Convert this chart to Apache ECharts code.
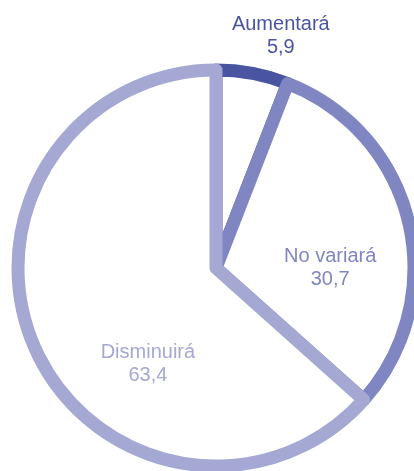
<!DOCTYPE html>
<html>
<head>
<meta charset="utf-8">
<script src="https://cdn.jsdelivr.net/npm/echarts@6/dist/echarts.min.js"></script>
<style>html,body{margin:0;padding:0;background:#fff}#c{width:414px;height:471px}</style>
</head>
<body>
<div id="c"></div>
<script>
var categories = ['Aumentará', 'No variará', 'Disminuirá'];
var values = [5.9, 30.7, 63.4];
var colors = ['#4a55a2', '#7f86c1', '#a4a8d3'];
var labelShift = [[46, -132], [15, 24], [25, 54]];

var chart = echarts.init(document.getElementById('c'), null, {renderer: 'canvas'});
chart.setOption({
  animation: false,
  series: [{
    type: 'pie',
    center: [216, 268],
    radius: 198,
    startAngle: 90,
    clockwise: true,
    silent: true,
    data: categories.map(function (n, i) {
      return {
        name: n,
        value: values[i],
        itemStyle: {color: '#ffffff', borderColor: colors[i], borderWidth: 13, borderJoin: 'round'},
        label: {color: colors[i]}
      };
    }),
    label: {
      show: true,
      position: 'inside',
      fontFamily: 'Liberation Sans',
      fontSize: 20,
      lineHeight: 23,
      align: 'center',
      formatter: function (p) { return p.name + '\n' + String(p.value).replace('.', ','); }
    },
    labelLine: {show: false},
    labelLayout: function (p) {
      return {dx: labelShift[p.dataIndex][0], dy: labelShift[p.dataIndex][1]};
    }
  }]
});
</script>
</body>
</html>
